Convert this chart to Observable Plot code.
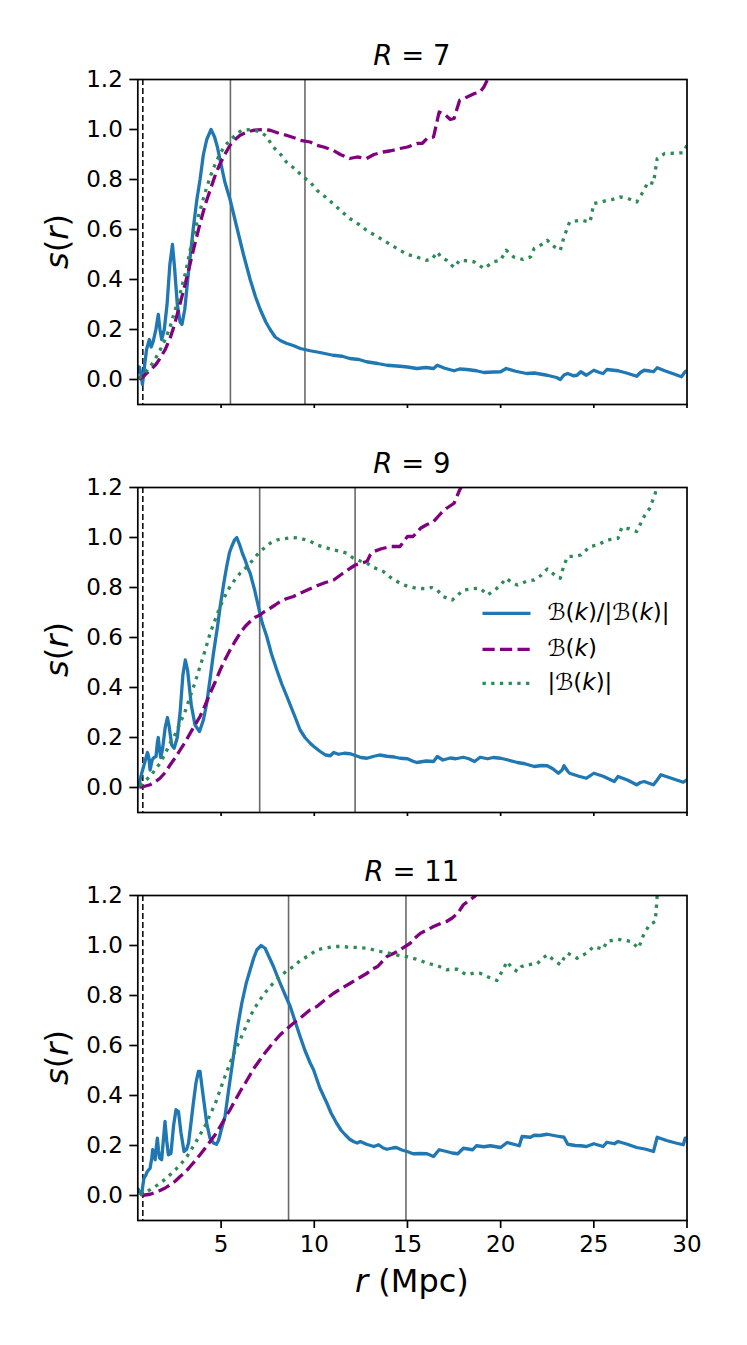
<!DOCTYPE html>
<html>
<head>
<meta charset="utf-8">
<script src="https://cdn.jsdelivr.net/npm/d3@7"></script>
<script src="https://cdn.jsdelivr.net/npm/@observablehq/plot@0.6"></script>
<style>
  html, body { margin: 0; padding: 0; background: #fff; }
  #wrap { position: relative; width: 747px; height: 1345px; background: #fff; font-family: "DejaVu Sans", sans-serif; }
  #wrap > .panel { position: absolute; left: 0; }
  #overlay { position: absolute; left: 0; top: 0; pointer-events: none; }
</style>
</head>
<body>
<div id="wrap"></div>
<script>
// ---------- data ----------
const radii = [7, 9, 11];
const xTicks = [5, 10, 15, 20, 25, 30];
const yTicks = [0, 0.2, 0.4, 0.6, 0.8, 1.0, 1.2];
const cutoffLine = [0.8];
const vlines7 = [5.5, 9.5];
const vlines9 = [7.07, 12.19];
const vlines11 = [8.62, 14.92];
const seriesLabels = ["ratio", "B", "absB"];

const ratio7 = [[0.55,0.03],[0.62,0.05],[0.7,0.02],[0.78,-0.02],[0.9,0.06],[1.0,0.12],[1.15,0.16],[1.25,0.13],[1.35,0.15],[1.5,0.2],[1.63,0.26],[1.72,0.2],[1.81,0.16],[1.95,0.2],[2.1,0.3],[2.25,0.46],[2.39,0.54],[2.5,0.45],[2.65,0.3],[2.8,0.23],[2.9,0.22],[3.05,0.28],[3.25,0.43],[3.5,0.6],[3.7,0.72],[3.87,0.8],[4.05,0.9],[4.23,0.96],[4.46,1.0],[4.65,0.97],[4.8,0.93],[5.0,0.86],[5.2,0.79],[5.48,0.72],[5.84,0.61],[6.2,0.5],[6.56,0.4],[6.85,0.33],[7.1,0.28],[7.4,0.23],[7.63,0.2],[7.9,0.17],[8.2,0.155],[8.5,0.145],[8.9,0.135],[9.25,0.124],[9.78,0.115],[10.3,0.108],[11.0,0.097],[11.5,0.093],[11.9,0.084],[12.4,0.08],[12.8,0.071],[13.4,0.064],[13.9,0.057],[14.6,0.053],[15.0,0.05],[15.5,0.044],[16.0,0.048],[16.4,0.044],[16.6,0.057],[17.0,0.045],[17.5,0.035],[17.8,0.042],[18.2,0.04],[18.7,0.035],[19.1,0.028],[19.6,0.03],[20.0,0.031],[20.3,0.044],[20.8,0.033],[21.4,0.024],[21.8,0.026],[22.5,0.017],[23.0,0.008],[23.2,0.0],[23.4,0.018],[23.6,0.024],[23.9,0.015],[24.1,0.017],[24.3,0.031],[24.6,0.017],[25.0,0.037],[25.3,0.028],[25.5,0.024],[25.7,0.04],[26.3,0.035],[26.8,0.025],[27.3,0.013],[27.5,0.028],[27.7,0.037],[28.0,0.034],[28.2,0.031],[28.4,0.047],[28.8,0.035],[29.3,0.022],[29.7,0.011],[29.9,0.031],[30.0,0.035]];
const bk7 = [[0.6,0.0],[0.8,0.01],[1.0,0.025],[1.2,0.037],[1.5,0.06],[1.72,0.084],[2.0,0.12],[2.26,0.164],[2.5,0.22],[2.8,0.304],[3.1,0.39],[3.34,0.464],[3.6,0.545],[3.87,0.624],[4.15,0.7],[4.41,0.757],[4.7,0.82],[4.95,0.864],[5.2,0.9],[5.48,0.937],[5.75,0.96],[6.02,0.977],[6.4,0.99],[6.74,0.997],[7.2,1.0],[7.63,0.997],[8.1,0.985],[8.5,0.977],[9.0,0.965],[9.25,0.957],[9.78,0.95],[10.14,0.937],[10.5,0.93],[11.0,0.917],[11.4,0.9],[11.9,0.884],[12.3,0.89],[12.8,0.884],[13.2,0.9],[13.7,0.91],[14.1,0.915],[14.6,0.924],[15.0,0.93],[15.5,0.944],[15.8,0.945],[16.05,0.964],[16.4,0.97],[16.7,1.07],[17.0,1.06],[17.3,1.04],[17.5,1.044],[17.8,1.117],[18.2,1.13],[18.6,1.144],[18.9,1.15],[19.1,1.17],[19.3,1.2],[19.45,1.26]];
const absbk7 = [[0.6,0.005],[0.8,0.02],[1.0,0.035],[1.19,0.05],[1.45,0.08],[1.72,0.117],[2.0,0.16],[2.26,0.21],[2.5,0.27],[2.8,0.344],[3.1,0.43],[3.34,0.517],[3.6,0.6],[3.87,0.677],[4.15,0.75],[4.41,0.81],[4.7,0.865],[4.95,0.904],[5.2,0.935],[5.48,0.957],[5.8,0.98],[6.1,0.997],[6.65,1.0],[7.1,0.99],[7.4,0.975],[7.8,0.93],[8.2,0.9],[8.5,0.87],[9.0,0.84],[9.4,0.81],[9.78,0.79],[10.14,0.757],[10.6,0.73],[11.0,0.704],[11.5,0.67],[11.9,0.644],[12.4,0.62],[12.8,0.597],[13.3,0.575],[13.7,0.557],[14.2,0.535],[14.6,0.517],[15.0,0.5],[15.5,0.49],[16.0,0.477],[16.3,0.48],[16.6,0.51],[16.8,0.49],[17.1,0.477],[17.5,0.448],[17.8,0.477],[18.2,0.475],[18.6,0.47],[19.1,0.444],[19.6,0.47],[20.0,0.477],[20.3,0.517],[20.7,0.49],[21.2,0.48],[21.6,0.49],[21.8,0.524],[22.2,0.54],[22.5,0.557],[22.9,0.53],[23.2,0.517],[23.4,0.57],[23.7,0.63],[24.3,0.637],[24.8,0.63],[25.0,0.704],[25.4,0.71],[25.7,0.717],[26.0,0.72],[26.4,0.73],[26.8,0.725],[27.3,0.71],[27.7,0.757],[27.9,0.79],[28.2,0.784],[28.4,0.884],[28.8,0.904],[29.3,0.905],[29.8,0.907],[30.0,0.937]];

const ratio9 = [[0.55,0.0],[0.65,0.03],[0.74,0.057],[0.9,0.1],[1.05,0.14],[1.12,0.12],[1.19,0.07],[1.3,0.11],[1.4,0.12],[1.51,0.124],[1.58,0.18],[1.63,0.2],[1.7,0.15],[1.76,0.12],[1.85,0.15],[2.0,0.24],[2.12,0.28],[2.2,0.25],[2.35,0.17],[2.48,0.157],[2.65,0.2],[2.8,0.3],[2.95,0.45],[3.08,0.51],[3.2,0.47],[3.4,0.33],[3.6,0.25],[3.84,0.224],[4.05,0.27],[4.23,0.337],[4.4,0.43],[4.59,0.537],[4.8,0.64],[4.95,0.724],[5.15,0.82],[5.3,0.884],[5.45,0.94],[5.57,0.964],[5.72,0.99],[5.84,1.0],[6.0,0.97],[6.15,0.935],[6.29,0.91],[6.45,0.875],[6.56,0.857],[6.8,0.79],[7.0,0.724],[7.2,0.66],[7.45,0.604],[7.7,0.535],[7.99,0.47],[8.25,0.415],[8.53,0.364],[8.9,0.295],[9.24,0.23],[9.5,0.2],[9.78,0.177],[9.96,0.165],[10.3,0.145],[10.6,0.13],[10.86,0.127],[11.04,0.14],[11.3,0.133],[11.6,0.137],[11.93,0.135],[12.2,0.128],[12.5,0.12],[12.83,0.117],[13.2,0.125],[13.5,0.13],[13.9,0.125],[14.3,0.122],[14.6,0.117],[15.0,0.115],[15.3,0.105],[15.5,0.1],[16.0,0.106],[16.4,0.104],[16.6,0.124],[16.9,0.11],[17.3,0.118],[17.6,0.115],[18.0,0.121],[18.3,0.115],[18.6,0.104],[18.9,0.121],[19.3,0.115],[19.6,0.12],[20.0,0.117],[20.4,0.11],[20.9,0.1],[21.3,0.095],[21.8,0.084],[22.2,0.088],[22.5,0.087],[22.8,0.075],[23.1,0.057],[23.3,0.07],[23.4,0.087],[23.6,0.065],[23.7,0.057],[24.2,0.045],[24.6,0.037],[25.0,0.057],[25.5,0.045],[26.1,0.024],[26.3,0.044],[26.8,0.03],[27.3,0.011],[27.5,0.02],[27.7,0.024],[28.0,0.016],[28.2,0.011],[28.4,0.03],[28.6,0.051],[29.2,0.036],[29.8,0.021],[30.0,0.031]];
const bk9 = [[0.65,0.0],[0.9,0.005],[1.19,0.011],[1.45,0.022],[1.72,0.037],[2.0,0.06],[2.26,0.09],[2.55,0.12],[2.8,0.15],[3.1,0.185],[3.34,0.217],[3.6,0.25],[3.87,0.284],[4.15,0.33],[4.41,0.377],[4.7,0.425],[4.95,0.47],[5.2,0.51],[5.48,0.55],[5.75,0.585],[6.02,0.617],[6.3,0.645],[6.56,0.664],[6.8,0.68],[7.09,0.69],[7.35,0.705],[7.63,0.717],[7.9,0.73],[8.17,0.744],[8.5,0.755],[8.88,0.764],[9.25,0.777],[9.78,0.795],[10.14,0.807],[10.6,0.82],[11.04,0.83],[11.5,0.855],[11.93,0.877],[12.2,0.89],[12.47,0.897],[12.83,0.904],[13.0,0.93],[13.2,0.944],[13.6,0.955],[14.1,0.964],[14.6,0.964],[15.0,1.004],[15.3,1.004],[15.7,1.037],[16.0,1.05],[16.4,1.064],[16.8,1.097],[17.1,1.117],[17.5,1.137],[17.8,1.19],[18.0,1.217]];
const absbk9 = [[0.65,0.007],[0.9,0.025],[1.19,0.044],[1.45,0.07],[1.72,0.097],[2.0,0.135],[2.26,0.177],[2.55,0.215],[2.8,0.257],[3.1,0.31],[3.34,0.364],[3.6,0.42],[3.87,0.484],[4.15,0.55],[4.41,0.617],[4.7,0.675],[4.95,0.724],[5.2,0.765],[5.48,0.804],[5.75,0.832],[6.02,0.857],[6.3,0.877],[6.56,0.897],[6.8,0.92],[7.09,0.944],[7.35,0.96],[7.63,0.977],[8.0,0.99],[8.35,0.995],[8.88,1.0],[9.25,0.997],[9.78,0.985],[10.14,0.97],[10.6,0.96],[11.04,0.95],[11.4,0.945],[11.75,0.937],[12.1,0.917],[12.5,0.905],[12.83,0.897],[13.2,0.88],[13.7,0.864],[14.1,0.84],[14.6,0.817],[15.0,0.805],[15.5,0.797],[16.0,0.795],[16.3,0.8],[16.6,0.79],[16.9,0.764],[17.4,0.75],[17.7,0.77],[18.0,0.79],[18.5,0.795],[18.9,0.797],[19.3,0.77],[19.7,0.79],[20.0,0.81],[20.3,0.837],[20.6,0.82],[20.9,0.81],[21.4,0.825],[21.8,0.83],[22.2,0.85],[22.5,0.874],[22.9,0.85],[23.2,0.837],[23.4,0.89],[23.6,0.924],[24.0,0.925],[24.3,0.93],[24.8,0.964],[25.2,0.97],[25.7,0.99],[26.3,0.997],[26.5,1.04],[26.9,1.035],[27.3,1.024],[27.7,1.084],[28.0,1.117],[28.3,1.177],[28.4,1.23]];

const ratio11 = [[0.55,0.025],[0.65,0.01],[0.74,0.003],[0.8,0.04],[0.86,0.069],[0.95,0.08],[1.04,0.096],[1.19,0.109],[1.28,0.15],[1.33,0.183],[1.4,0.17],[1.46,0.143],[1.52,0.19],[1.58,0.229],[1.64,0.18],[1.7,0.15],[1.81,0.143],[1.9,0.22],[1.99,0.296],[2.08,0.22],[2.17,0.163],[2.31,0.169],[2.45,0.28],[2.58,0.343],[2.71,0.336],[2.85,0.25],[3.01,0.176],[3.15,0.185],[3.25,0.209],[3.4,0.3],[3.51,0.369],[3.65,0.45],[3.78,0.496],[3.87,0.496],[4.0,0.42],[4.23,0.289],[4.4,0.23],[4.59,0.21],[4.75,0.205],[4.86,0.22],[5.0,0.26],[5.21,0.316],[5.4,0.42],[5.66,0.556],[5.9,0.68],[6.11,0.769],[6.35,0.85],[6.56,0.903],[6.75,0.95],[6.92,0.983],[7.15,1.0],[7.36,0.989],[7.6,0.95],[7.81,0.916],[8.0,0.88],[8.17,0.849],[8.45,0.8],[8.71,0.756],[9.0,0.69],[9.24,0.636],[9.5,0.58],[9.78,0.53],[9.96,0.503],[10.3,0.43],[10.68,0.369],[10.9,0.33],[11.2,0.289],[11.45,0.26],[11.66,0.243],[11.9,0.225],[12.1,0.216],[12.3,0.21],[12.47,0.216],[12.8,0.205],[13.2,0.196],[13.45,0.203],[13.7,0.19],[13.9,0.185],[14.2,0.19],[14.4,0.192],[14.7,0.182],[14.98,0.176],[15.3,0.167],[15.7,0.168],[16.05,0.167],[16.4,0.156],[16.7,0.183],[17.1,0.176],[17.4,0.17],[17.7,0.167],[18.0,0.189],[18.5,0.183],[18.7,0.199],[19.1,0.195],[19.45,0.199],[20.0,0.192],[20.35,0.212],[20.7,0.205],[21.0,0.199],[21.15,0.236],[21.6,0.233],[21.8,0.241],[22.1,0.24],[22.5,0.245],[23.0,0.238],[23.4,0.233],[23.6,0.205],[24.0,0.2],[24.3,0.199],[24.6,0.196],[25.0,0.207],[25.5,0.196],[25.7,0.213],[26.1,0.207],[26.3,0.216],[26.8,0.205],[27.3,0.192],[27.8,0.185],[28.2,0.176],[28.4,0.233],[28.9,0.22],[29.4,0.21],[29.8,0.203],[29.9,0.229],[30.0,0.23]];
const bk11 = [[0.74,0.0],[1.0,0.003],[1.19,0.005],[1.45,0.012],[1.72,0.02],[2.0,0.03],[2.26,0.043],[2.55,0.058],[2.8,0.076],[3.1,0.095],[3.34,0.116],[3.6,0.138],[3.87,0.163],[4.15,0.19],[4.41,0.216],[4.7,0.245],[4.95,0.276],[5.2,0.308],[5.48,0.343],[5.75,0.38],[6.02,0.416],[6.3,0.45],[6.56,0.483],[6.8,0.513],[7.09,0.543],[7.35,0.57],[7.63,0.596],[7.9,0.62],[8.17,0.643],[8.5,0.665],[8.88,0.689],[9.25,0.71],[9.78,0.743],[10.14,0.756],[10.6,0.785],[11.04,0.809],[11.5,0.83],[11.93,0.849],[12.4,0.87],[12.83,0.889],[13.1,0.905],[13.4,0.916],[13.9,0.956],[14.3,0.97],[14.6,0.983],[15.15,1.009],[15.4,1.03],[15.7,1.049],[16.0,1.06],[16.4,1.076],[16.8,1.089],[17.1,1.096],[17.4,1.11],[17.7,1.129],[18.0,1.163],[18.3,1.18],[18.6,1.196],[18.9,1.223]];
const absbk11 = [[0.65,0.003],[0.9,0.012],[1.19,0.023],[1.45,0.035],[1.72,0.049],[2.0,0.065],[2.26,0.083],[2.55,0.103],[2.8,0.123],[3.1,0.148],[3.34,0.176],[3.6,0.208],[3.87,0.243],[4.15,0.28],[4.41,0.323],[4.7,0.37],[4.95,0.423],[5.2,0.475],[5.48,0.529],[5.75,0.58],[6.02,0.623],[6.3,0.67],[6.56,0.716],[6.8,0.75],[7.09,0.783],[7.35,0.81],[7.63,0.836],[7.9,0.857],[8.17,0.876],[8.5,0.897],[8.88,0.916],[9.25,0.94],[9.78,0.963],[10.14,0.983],[10.6,0.99],[11.04,0.996],[11.5,0.996],[11.93,0.993],[12.4,0.992],[12.83,0.989],[13.2,0.982],[13.55,0.976],[14.1,0.968],[14.6,0.959],[15.0,0.955],[15.3,0.949],[15.7,0.94],[16.05,0.929],[16.3,0.925],[16.6,0.919],[16.9,0.91],[17.1,0.903],[17.4,0.905],[17.7,0.905],[18.0,0.89],[18.2,0.883],[18.6,0.89],[18.9,0.889],[19.3,0.875],[19.8,0.86],[20.1,0.9],[20.35,0.936],[20.6,0.91],[20.9,0.896],[21.1,0.915],[21.4,0.923],[21.96,0.927],[22.2,0.945],[22.5,0.963],[22.8,0.945],[23.2,0.923],[23.4,0.95],[23.6,0.969],[24.1,0.949],[24.6,0.969],[25.0,0.996],[25.5,0.985],[25.7,1.016],[26.3,1.025],[26.7,1.02],[27.0,1.016],[27.4,0.989],[27.7,1.049],[28.0,1.083],[28.3,1.096],[28.4,1.2],[28.45,1.25]];

// ---------- styles ----------
const BLUE = "#1f77b4", PURPLE = "#800080", GREEN = "#2e8b57";
const DASH = "12.2,5.3", DOT = "3.3,5.4";
const FONT = "DejaVu Sans";

const panels = [
  {R: radii[0], ratio: ratio7, bk: bk7, absbk: absbk7, vl: vlines7},
  {R: radii[1], ratio: ratio9, bk: bk9, absbk: absbk9, vl: vlines9},
  {R: radii[2], ratio: ratio11, bk: bk11, absbk: absbk11, vl: vlines11}
];

const MT = 79, PH = 325, ML = 137.3, MR = 60.5, STEP = 408;
const wrap = document.getElementById("wrap");

panels.forEach((p, i) => {
  const bottom = i === panels.length - 1;
  const mb = bottom ? 124 : 4;
  const chart = Plot.plot({
    width: 747,
    height: MT + PH + mb,
    marginTop: MT, marginBottom: mb, marginLeft: ML, marginRight: MR,
    style: {fontFamily: FONT, background: "white", color: "black", overflow: "visible"},
    x: {domain: [0.53, 30]},
    y: {domain: [-0.1, 1.2]},
    marks: [
      Plot.ruleX(cutoffLine, {stroke: "black", strokeWidth: 1.5, strokeDasharray: "6,3"}),
      Plot.ruleX(p.vl, {stroke: "#6a6a6a", strokeWidth: 1.6}),
      Plot.line(p.ratio, {x: d => d[0], y: d => d[1], stroke: BLUE, strokeWidth: 3.3, strokeLinejoin: "round", clip: true}),
      Plot.line(p.bk, {x: d => d[0], y: d => d[1], stroke: PURPLE, strokeWidth: 3.3, strokeDasharray: DASH, strokeLinecap: "butt", clip: true}),
      Plot.line(p.absbk, {x: d => d[0], y: d => d[1], stroke: GREEN, strokeWidth: 3.3, strokeDasharray: DOT, strokeLinecap: "butt", clip: true}),
      Plot.frame({stroke: "black", strokeWidth: 1.7}),
      Plot.axisY({ticks: yTicks, tickSize: 8, tickPadding: 7, strokeWidth: 1.7, fontSize: 23, tickFormat: d3.format(".1f"), label: null}),
      Plot.axisX({ticks: xTicks, tickSize: 8, tickPadding: 7, strokeWidth: 1.7, fontSize: 23, tickFormat: bottom ? d3.format("d") : () => "", label: null})
    ]
  });
  chart.classList.add("panel");
  chart.style.top = (i * STEP) + "px";
  wrap.appendChild(chart);
});

// ---------- overlay text: titles, axis labels, legend ----------
const svg = d3.select(wrap).append("svg")
  .attr("id", "overlay").attr("width", 747).attr("height", 1345)
  .style("font-family", FONT);

const cx = ML + (747 - ML - MR) / 2;
panels.forEach((p, i) => {
  const top = MT + i * STEP;
  const t = svg.append("text").attr("x", cx).attr("y", top - 14)
    .attr("text-anchor", "middle").attr("font-size", 27.5).attr("fill", "black");
  t.append("tspan").attr("font-style", "italic").text("R");
  t.append("tspan").text(" = " + p.R);

  const yl = svg.append("text")
    .attr("transform", `translate(67.5,${top + PH / 2}) rotate(-90)`)
    .attr("text-anchor", "middle").attr("font-size", 32).attr("fill", "black");
  yl.append("tspan").attr("font-style", "italic").text("s");
  yl.append("tspan").text("(");
  yl.append("tspan").attr("font-style", "italic").text("r");
  yl.append("tspan").text(")");
});

const xl = svg.append("text").attr("x", cx).attr("y", 1292)
  .attr("text-anchor", "middle").attr("font-size", 32).attr("fill", "black");
xl.append("tspan").attr("font-style", "italic").text("r");
xl.append("tspan").text(" (Mpc)");

// legend (in middle panel)
const legendRows = [
  {y: 613.3, stroke: BLUE, dash: null, parts: [["ℬ(", 0], ["k", 1], [")/|ℬ(", 0], ["k", 1], [")|", 0]]},
  {y: 649.3, stroke: PURPLE, dash: DASH, parts: [["ℬ(", 0], ["k", 1], [")", 0]]},
  {y: 683.3, stroke: GREEN, dash: DOT, parts: [["|ℬ(", 0], ["k", 1], [")|", 0]]}
];
legendRows.forEach(r => {
  svg.append("line").attr("x1", 482.5).attr("x2", 530.5).attr("y1", r.y).attr("y2", r.y)
    .attr("stroke", r.stroke).attr("stroke-width", 3.3)
    .attr("stroke-dasharray", r.dash).attr("stroke-linecap", "butt");
  const t = svg.append("text").attr("x", 547.5).attr("y", r.y + 7)
    .attr("font-size", 23).attr("fill", "black");
  r.parts.forEach(([s, it]) => {
    const ts = t.append("tspan").text(s);
    if (it) ts.attr("font-style", "italic");
  });
});
</script>
</body>
</html>
